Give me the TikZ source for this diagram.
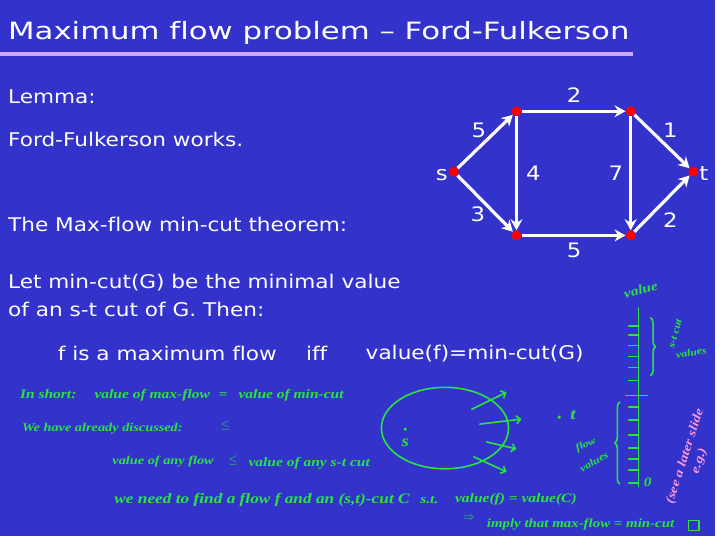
\documentclass[tikz,border=0pt]{standalone}
\usepackage{fontspec}
\setmainfont{DejaVu Sans}[Ligatures=NoCommon, FakeStretch=1.145]
\newfontfamily\titlefont{DejaVu Sans}[Ligatures=NoCommon, FakeStretch=1.29]
\newfontfamily\handfont{Liberation Serif}[FakeStretch=1.2]
\usetikzlibrary{arrows.meta, decorations.pathreplacing}

\definecolor{slideblue}{RGB}{51,51,204}
\definecolor{titleline}{RGB}{204,170,255}
\definecolor{penGreen}{RGB}{40,230,60}
\definecolor{penPink}{RGB}{255,150,220}
\definecolor{vertexred}{RGB}{255,0,0}

\tikzset{
    slidetext/.style={anchor=west, text=white, inner sep=0pt, font=\fontsize{19}{22}\selectfont},
    vertex/.style={circle, fill=vertexred, minimum size=10pt, inner sep=0pt},
    weight/.style={text=white, inner sep=0pt, font=\fontsize{20}{22}\selectfont},
    edge/.style={draw=white, line width=3.2pt, -{Stealth[length=11pt, width=12pt]}},
    hand/.style={anchor=west, text=penGreen, inner sep=0pt, font=\handfont\itshape\bfseries\fontsize{13}{14}\selectfont},
    smallhand/.style={hand, anchor=center, font=\handfont\itshape\bfseries\fontsize{10}{10}\selectfont},
    bighand/.style={hand, anchor=center, font=\handfont\itshape\bfseries\fontsize{16}{16}\selectfont},
    pen/.style={draw=penGreen, line width=1.6pt, line cap=round, line join=round},
}

\begin{document}
\begin{tikzpicture}[x=1pt, y=-1pt]
    \fill[slideblue] (0,0) rectangle (720,540);

    % title
    \node[anchor=west, text=white, inner sep=0pt, font=\titlefont\fontsize{24}{28}\selectfont] (title) at (8,33) {Maximum flow problem – Ford-Fulkerson};
    \fill[titleline] (0,52) rectangle (637,56);

    % slide text
    \node[slidetext] (lemma) at (8,97) {Lemma:};
    \node[slidetext] (works) at (8,140) {Ford-Fulkerson works.};
    \node[slidetext] (thm) at (8,226) {The Max-flow min-cut theorem:};
    \node[slidetext] (let1) at (8,284) {Let min-cut(G) be the minimal value};
    \node[slidetext] (let2) at (8,312) {of an s-t cut of G. Then:};
    \node[slidetext] (maxf) at (58,356) {f is a maximum flow};
    \node[slidetext] (iff) at (308,356) {iff};
    \node[slidetext] (eq) at (368,356) {value(f)=min-cut(G)};

    % network
    \node[vertex] (s) at (457,173) {};
    \node[vertex] (a) at (520,112) {};
    \node[vertex] (b) at (635,112) {};
    \node[vertex] (c) at (520,237) {};
    \node[vertex] (d) at (635,237) {};
    \node[vertex] (t) at (698,173) {};
    \node[weight, anchor=east] (sl) at (451,176) {s};
    \node[weight, anchor=west] (tl) at (704,175) {t};

    \draw[edge] (s) -- (a);
    \draw[edge] (s) -- (c);
    \draw[edge] (a) -- (b);
    \draw[edge] (a) -- (c);
    \draw[edge] (b) -- (d);
    \draw[edge] (b) -- (t);
    \draw[edge] (c) -- (d);
    \draw[edge] (d) -- (t);

    \node[weight] (wab) at (578,96) {2};
    \node[weight] (wsa) at (482,131) {5};
    \node[weight] (wbt) at (675,131) {1};
    \node[weight] (wac) at (537,174) {4};
    \node[weight] (wbd) at (620,174) {7};
    \node[weight] (wsc) at (481,216) {3};
    \node[weight] (wdt) at (675,222) {2};
    \node[weight] (wcd) at (578,252) {5};

    % handwritten notes
    \node[hand] (short) at (20,397) {In short:};
    \node[hand] (vmax) at (95,398) {value of max-flow};
    \node[hand] (eq1) at (220,398) {=};
    \node[hand] (vmin) at (240,398) {value of min-cut};
    \node[hand, font=\handfont\itshape\bfseries\fontsize{12}{13}\selectfont] (disc) at (22,432) {We have already discussed:};
    \node[hand] (le1) at (222,428) {$\leq$};
    \node[hand, font=\handfont\itshape\bfseries\fontsize{12}{13}\selectfont] (vany) at (113,465) {value of any flow};
    \node[hand] (le2) at (230,464) {$\leq$};
    \node[hand] (vcut) at (250,466) {value of any s-t cut};
    \node[hand, font=\handfont\itshape\bfseries\fontsize{14.5}{15}\selectfont] (need) at (115,503) {we need to find a flow f and an (s,t)-cut C};
    \node[hand] (st) at (423,503) {s.t.};
    \node[hand] (vfc) at (458,503) {value(f) = value(C)};
    \node[hand] (impl) at (466,522) {$\Rightarrow$};
    \node[hand, font=\handfont\itshape\bfseries\fontsize{12.5}{13}\selectfont] (imply) at (490,528) {imply that max-flow = min-cut};
    \draw[pen] (693,524) rectangle (704,534);

    % cut around s
    \draw[pen] (448,431) ellipse [x radius=64, y radius=41];
    \fill[penGreen] (408,432) circle (1.8);
    \node[bighand] (sh) at (408,446) {s};
    \fill[penGreen] (563,420) circle (1.8);
    \node[bighand] (th) at (577,418) {t};
    \coordinate (o1) at (475,412); \coordinate (e1) at (510,395);
    \coordinate (o2) at (483,427); \coordinate (e2) at (525,422);
    \coordinate (o3) at (490,445); \coordinate (e3) at (520,452);
    \coordinate (o4) at (477,460); \coordinate (e4) at (510,475);
    \foreach \i in {1,...,4}
        \draw[pen, -{Straight Barb[length=4pt]}] (o\i) -- (e\i);

    % value axis
    \draw[pen] (643,310) -- (643,490);
    \foreach \y in {328,337,348,359,370,383,410,423,438,451,462,473,486}
        \draw[pen] (633,\y) -- (643,\y);
    \draw[pen] (630,398) -- (652,398);
    \node[hand, anchor=center, rotate=15] (vlab) at (645,292) {value};
    \node[hand, anchor=west] (zero) at (648,486) {0};
    \draw[pen, decorate, decoration={brace, amplitude=5pt}] (655,320) -- (655,378);
    \node[smallhand, rotate=75] (cutst) at (680,336) {s-t cut};
    \node[smallhand, rotate=10] (cutv) at (696,355) {values};
    \draw[pen, decorate, decoration={brace, amplitude=5pt}] (624,487) -- (624,405);
    \node[smallhand, rotate=25] (flowf) at (590,448) {flow};
    \node[smallhand, rotate=30] (floww) at (598,465) {values};
    \node[anchor=center, rotate=72, text=penPink, align=center, inner sep=0pt, font=\handfont\itshape\bfseries\fontsize{12.5}{15}\selectfont] (later) at (697,462) {(see a later slide\\e.g.)};
\end{tikzpicture}
\end{document}
